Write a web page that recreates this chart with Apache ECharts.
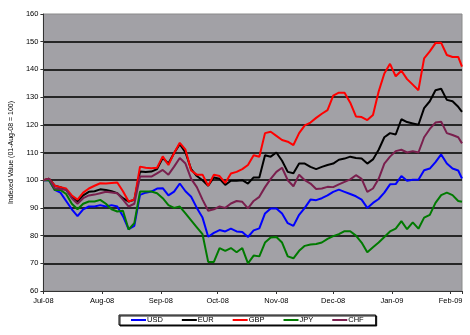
<!DOCTYPE html>
<html>
<head>
<meta charset="utf-8">
<script src="https://cdn.jsdelivr.net/npm/echarts@6/dist/echarts.min.js"></script>
<style>
html,body{margin:0;padding:0;background:#fff;}
#chart{width:470px;height:335px;}
</style>
</head>
<body>
<div id="chart"></div>
<script>
// Dates of the sampled observations
const dates = [
'2008-07-01','2008-07-04','2008-07-07','2008-07-10','2008-07-13','2008-07-16','2008-07-19','2008-07-22','2008-07-25','2008-07-28','2008-07-31',
'2008-08-03','2008-08-06','2008-08-09','2008-08-12','2008-08-15','2008-08-18','2008-08-21','2008-08-24','2008-08-27','2008-08-30',
'2008-09-02','2008-09-05','2008-09-08','2008-09-11','2008-09-14','2008-09-17','2008-09-20','2008-09-23','2008-09-26','2008-09-29',
'2008-10-02','2008-10-05','2008-10-08','2008-10-11','2008-10-14','2008-10-17','2008-10-20','2008-10-23','2008-10-26','2008-10-29',
'2008-11-01','2008-11-04','2008-11-07','2008-11-10','2008-11-13','2008-11-16','2008-11-19','2008-11-22','2008-11-25','2008-11-28',
'2008-12-01','2008-12-04','2008-12-07','2008-12-10','2008-12-13','2008-12-16','2008-12-19','2008-12-22','2008-12-25','2008-12-28','2008-12-31',
'2009-01-03','2009-01-06','2009-01-09','2009-01-12','2009-01-15','2009-01-18','2009-01-21','2009-01-24','2009-01-27','2009-01-30',
'2009-02-02','2009-02-05','2009-02-07'
];

const usd = [100,100,96.5,95.5,92.5,89.5,87,89.5,90.5,90.5,91,90.5,91,90.5,87,82.3,83.5,94.7,95.5,95.9,97,97.1,94.5,95.9,98.8,96,94,90,86.5,79.6,81,82,81.5,82.5,81.5,81.3,79.5,81.9,82.6,88,89.8,89.8,88,84.5,83.5,87.5,90,93,92.8,93.5,94.5,95.8,96.6,95.8,95,94.2,93,90,91.8,93.2,95.5,98.5,98.6,101.5,99.8,100.2,100.2,103.6,104.2,106.5,109.3,106,104.2,103.5,100.6];

const eur = [100,100.5,98,97.5,96.5,94,92.3,94.5,95.8,96,96.7,96.5,96,95.3,93.5,92.3,92.9,103.1,103,103.1,104,108,106,109.8,113,110,104,101.5,100,98,101,100.5,98.3,99.8,99.8,100,98.8,101,101,109,108.5,110,107,103,102.5,106,106,104.8,104,104.8,105.5,106,107.4,107.8,108.5,108,107.8,106,107.5,111,115.5,117,116.5,122,121,120.5,120,126,128.5,132.5,133,129,128.5,126.5,124.7];

const gbp = [100,100.5,98,97.5,97,94.5,93,95.5,97,98,98.9,98.8,99,99.2,96,92.3,93,104.9,104.5,104.3,104.5,108.6,105.5,109.8,113.5,111,103.5,102,102,98,102,101.5,99,102.4,103,104,105.5,109,108.5,117,117.5,116,114.5,113.9,112.7,117,119.8,120.8,122.5,124,125.3,130.5,131.6,131.6,128,123,122.8,121.7,123.5,132,138.5,142,137.5,139.5,136.5,134.5,132.5,144,146.5,149.5,149.6,145.2,144.5,144.5,141];

const jpy = [100,100,96.5,96.5,95,91.5,89.5,91.5,92.3,92.3,92.9,91.5,89.5,88.7,89,82.2,84.5,95.9,95.9,95.9,95.3,93.5,91,90,90.5,88,85.5,83,80.5,70.5,70.5,75.5,74.5,75.5,74,75.5,70,72.8,72.5,77.5,79.3,79.5,77.5,72.5,71.8,74.5,76.3,76.8,77,77.5,78.8,79.8,80.5,81.6,81.6,80,77.5,74,75.8,77.5,79.5,81.5,82.5,85.2,82.3,84.8,82.5,86.5,87.5,91.8,94.6,95.5,94.6,92.5,92.2];

const chf = [100,100.5,97.1,96.8,96.5,93.5,91.5,93.5,94.5,94.8,95.3,95.8,95.6,95.3,93,90.5,91.5,101.3,101.3,101.3,102.5,103.7,102,104.9,108,106,100.5,97.5,93,89,89.5,90.5,90,91.6,92.5,92.2,89.8,92.5,94,97.5,100.5,103,104.5,100,97.8,102,100,98.8,96.8,97,97.6,97.5,98.5,99.4,100.3,101.8,100.5,95.8,97,100.5,106,108.5,110.5,111,110,110.5,110,115.5,118.5,120.8,121.1,117,116.3,115.5,113.3];

const seriesNames = ['USD','EUR','GBP','JPY','CHF'];
const seriesValues = [usd, eur, gbp, jpy, chf];
const seriesColors = ['#0000ff','#000000','#ff0000','#007a00','#7a1f4e'];
const monthNames = ['Jan','Feb','Mar','Apr','May','Jun','Jul','Aug','Sep','Oct','Nov','Dec'];

const DAY = 86400000;
const font = 'Liberation Sans, Arial, sans-serif';

const chart = echarts.init(document.getElementById('chart'), null, {renderer:'canvas'});
chart.setOption({
  animation: false,
  backgroundColor: '#ffffff',
  grid: {
    left: 36, right: 8, top: 14, bottom: 44,
    show: true, backgroundColor: '#a2a1a6', borderColor: '#8a8a8a', borderWidth: 1
  },
  legend: {
    data: seriesNames,
    left: 119, top: 315,
    orient: 'horizontal',
    icon: 'rect',
    itemWidth: 15, itemHeight: 2,
    itemGap: 19,
    padding: [1, 12, 1, 12],
    borderColor: '#000', borderWidth: 1,
    backgroundColor: '#fff',
    shadowColor: 'rgba(0,0,0,0.9)', shadowOffsetX: 1, shadowOffsetY: 1, shadowBlur: 0,
    textStyle: { fontSize: 7.5, color: '#000', fontFamily: font, padding: [0,0,0,-4] }
  },
  xAxis: {
    type: 'time',
    min: '2008-07-01',
    max: '2009-02-07',
    splitNumber: 7,
    minInterval: 28 * DAY,
    maxInterval: 31 * DAY,
    axisLine: { show: true, lineStyle: { color: '#333', width: 1 } },
    axisTick: { show: true, length: 3, lineStyle: { color: '#333' } },
    splitLine: { show: false },
    axisLabel: {
      fontSize: 7.5, color: '#000', fontFamily: font, margin: 6,
      showMinLabel: true, showMaxLabel: true,
      hideOverlap: false,
      formatter: function (v) {
        const d = new Date(v);
        if (d.getDate() !== 1) return '';
        return monthNames[d.getMonth()] + '-' + String(d.getFullYear()).slice(2);
      }
    }
  },
  yAxis: {
    type: 'value',
    min: 60, max: 160, interval: 10,
    name: 'Indexed Value (01-Aug-08 = 100)',
    nameLocation: 'middle',
    nameRotate: 90,
    nameGap: 27,
    nameTextStyle: { fontSize: 7, color: '#000', fontFamily: font },
    axisLine: { show: true, lineStyle: { color: '#333', width: 1 } },
    axisTick: { show: true, length: 3, lineStyle: { color: '#333' } },
    axisLabel: { fontSize: 7.5, color: '#000', fontFamily: font, margin: 5 },
    splitLine: { show: true, showMinLine: false, showMaxLine: false, lineStyle: { color: '#262626', width: 2 } }
  },
  series: seriesNames.map(function (name, k) {
    return {
      name: name,
      type: 'line',
      showSymbol: false,
      symbol: 'none',
      lineStyle: { width: 2, color: seriesColors[k] },
      itemStyle: { color: seriesColors[k] },
      data: dates.map(function (d, i) { return [d, seriesValues[k][i]]; })
    };
  })
});
</script>
</body>
</html>
